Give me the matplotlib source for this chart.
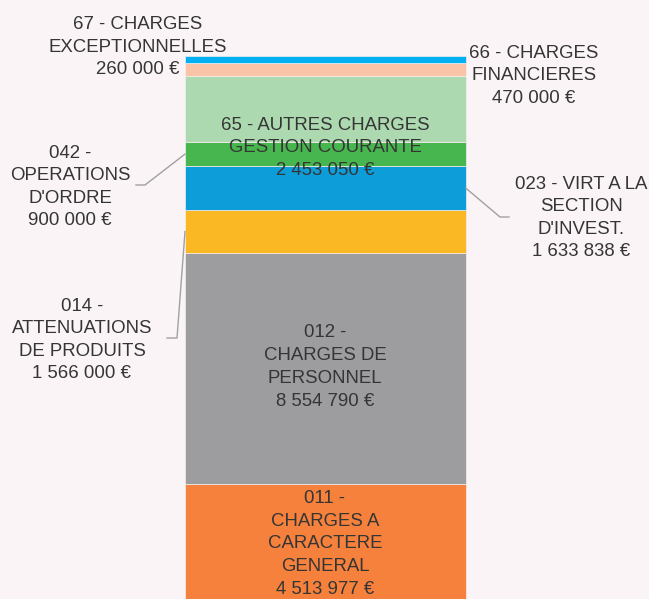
import matplotlib.pyplot as plt
import numpy as np

plt.rcParams['font.family'] = ['Liberation Sans', 'DejaVu Sans']

# Dépenses de fonctionnement, empilées du bas vers le haut
codes = ["011 -", "012 -", "014 -", "023 - VIRT A LA", "042 -", "65 - AUTRES CHARGES",
         "66 - CHARGES", "67 - CHARGES"]
names = ["CHARGES A\nCARACTERE\nGENERAL", "CHARGES DE\nPERSONNEL", "ATTENUATIONS\nDE PRODUITS",
         "SECTION\nD'INVEST.", "OPERATIONS\nD'ORDRE", "GESTION COURANTE",
         "FINANCIERES", "EXCEPTIONNELLES"]
values = [4513977, 8554790, 1566000, 1633838, 900000, 2453050, 470000, 260000]
colors = ["#F5813D", "#9D9D9F", "#FBB825", "#0D9DD9", "#48B64E", "#ADD9B0",
          "#F9C4A8", "#00B0F0"]

bg = "#FAF4F6"
txt = "#353535"
W, H = 649, 599

fig = plt.figure(figsize=(W / 100, H / 100), dpi=100, facecolor=bg)
ax = fig.add_axes([0, 0, 1, 1])
ax.set_facecolor(bg)
ax.axis("off")

bottoms = np.concatenate([[0], np.cumsum(values)[:-1]])
total = sum(values)
ax.bar(0, values, width=1, bottom=bottoms, color=colors, edgecolor="#F4EEF0", linewidth=0.5)

# bar spans px 185..466, top at px 56, zero at px 605.5 (just below the figure)
v = total / 549.5
ax.set_xlim(-0.5 - 185 / 281, 0.5 + (W - 466) / 281)
ax.set_ylim((605.5 - H) * v, total + 56 * v)


def fmt(n):
    return f"{n:,}".replace(",", " ") + " €"


def label(i):
    return f"{codes[i]}\n{names[i]}\n{fmt(values[i])}"


def px(x, y):
    # pixel position -> data coords
    return ax.transData.inverted().transform(fig.transFigure.transform((x / W, 1 - y / H)))


fs = 13.4
mids = bottoms + np.array(values) / 2

# labels inside the bar
for i, ypx in [(0, 544), (1, 367), (5, 148)]:
    ax.text(*px(325, ypx), label(i), ha="center", va="center", fontsize=fs,
            color=txt, linespacing=1.46)

# outside labels
ax.text(*px(138, 47), label(7), ha="center", va="center", fontsize=fs, color=txt, linespacing=1.4)
ax.text(*px(534, 76), label(6), ha="center", va="center", fontsize=fs, color=txt, linespacing=1.4)

# leader lines
lc = "#A0A0A0"
for i, tpos, elbow, end in [
    (4, (70, 187), (145, 185), (136, 185)),
    (3, (581, 218), (500, 217), (509, 217)),
    (2, (82, 340), (177, 338), (167, 338)),
]:
    ax.text(*px(*tpos), label(i), ha="center", va="center", fontsize=fs,
            color=txt, linespacing=1.42)
    edge = -0.5 if elbow[0] < 325 else 0.5
    e = px(*elbow)
    t = px(*end)
    ax.plot([edge, e[0], t[0]], [mids[i], e[1], t[1]], color=lc, linewidth=1)

fig.savefig("out.png", dpi=100, facecolor=bg)
